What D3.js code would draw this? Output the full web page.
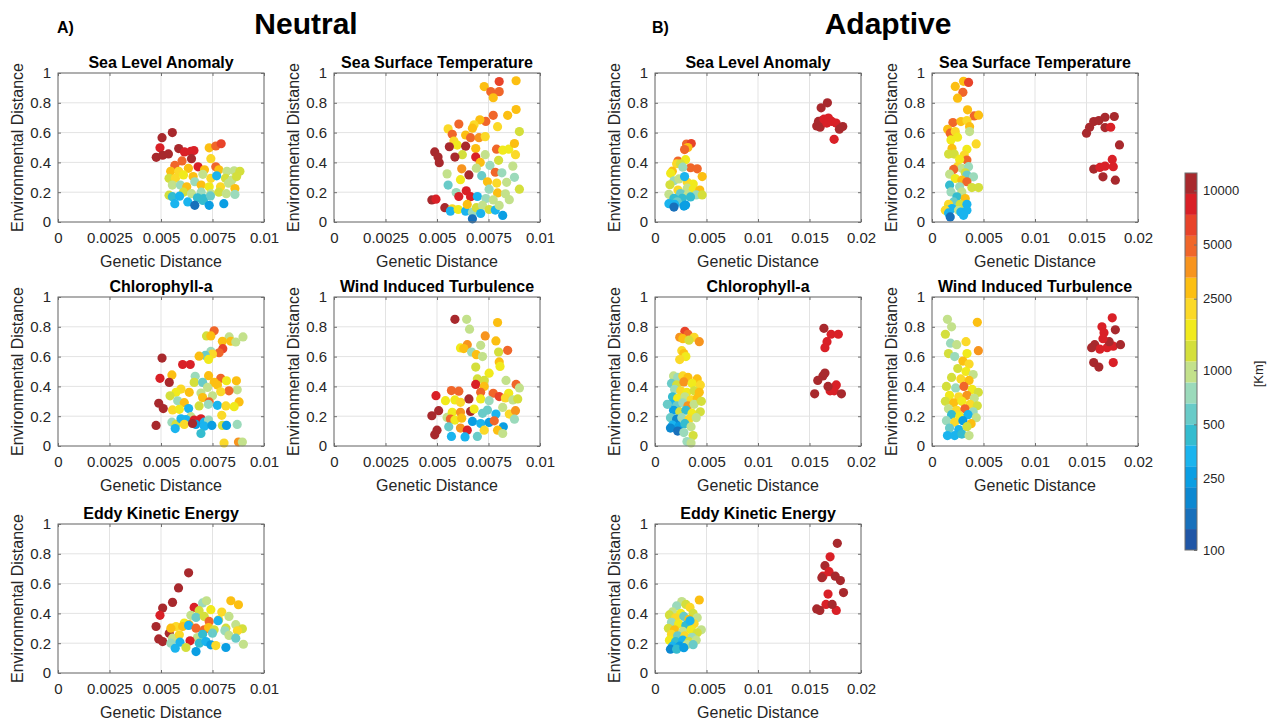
<!DOCTYPE html>
<html>
<head>
<meta charset="utf-8">
<script src="https://cdn.jsdelivr.net/npm/d3@7"></script>
<style>
  body { margin: 0; background: #fff; }
  text { font-family: Arial, "Liberation Sans", Helvetica, sans-serif; }
</style>
</head>
<body>
<svg id="chart" width="1271" height="726"></svg>
<script>
// each point: [genetic distance, environmental distance, geographic distance (km)]
var neutralSLA = [
  [0.00555,0.60,11000],[0.00505,0.566,11000],[0.00495,0.498,8400],[0.00477,0.434,11000],[0.00508,0.448,11000],
  [0.00536,0.457,11000],[0.00586,0.493,11000],[0.00614,0.47,8400],[0.00645,0.475,8400],[0.0066,0.48,8400],
  [0.00648,0.425,11000],[0.0068,0.37,8400],[0.00734,0.498,2900],[0.00766,0.51,4900],[0.00792,0.525,6400],
  [0.00742,0.425,2200],[0.00602,0.41,4900],[0.00567,0.38,4900],[0.00547,0.34,2900],[0.00586,0.34,2200],
  [0.00633,0.36,2900],[0.00711,0.35,2900],[0.00766,0.37,4900],[0.00781,0.35,2900],[0.0082,0.34,980],
  [0.00855,0.344,980],[0.00883,0.34,1300],[0.00539,0.293,1300],[0.0057,0.293,2200],[0.00609,0.316,1700],
  [0.00656,0.305,2900],[0.00703,0.32,980],[0.00742,0.293,2200],[0.00813,0.293,1300],[0.00844,0.282,980],
  [0.00867,0.305,1300],[0.00555,0.248,980],[0.00594,0.248,750],[0.00625,0.236,2900],[0.00664,0.27,750],
  [0.00695,0.248,2900],[0.00734,0.236,1700],[0.00789,0.236,2200],[0.00828,0.26,980],[0.00609,0.2,1300],
  [0.00648,0.19,980],[0.00695,0.2,750],[0.00742,0.19,980],[0.00781,0.2,1300],[0.00817,0.19,980],
  [0.00859,0.225,2900],[0.00859,0.185,750],[0.00539,0.18,1300],[0.00555,0.17,440],[0.0059,0.173,340],
  [0.00677,0.162,440],[0.00708,0.157,440],[0.0074,0.175,570],[0.0077,0.31,340],[0.00567,0.123,340],
  [0.0063,0.135,340],[0.00664,0.112,150],[0.00703,0.145,440],[0.00734,0.112,260],[0.00805,0.123,260]
];
var neutralSST = [
  [0.00884,0.948,2900],[0.00802,0.943,6400],[0.00729,0.909,2900],[0.00761,0.875,4900],[0.00802,0.875,4900],
  [0.00773,0.834,2900],[0.00884,0.755,2900],[0.00843,0.716,2900],[0.00773,0.716,4900],[0.00737,0.675,4900],
  [0.00708,0.686,2900],[0.0068,0.652,2200],[0.00672,0.63,2900],[0.00794,0.64,2200],[0.00606,0.657,4900],
  [0.00554,0.625,2200],[0.00574,0.589,4900],[0.00639,0.584,2900],[0.00663,0.566,4900],[0.00704,0.566,3700],
  [0.00734,0.573,2200],[0.009,0.607,1300],[0.00582,0.543,2200],[0.00598,0.516,1700],[0.0056,0.505,11000],
  [0.00639,0.509,11000],[0.00623,0.452,1300],[0.00688,0.493,2900],[0.00789,0.489,4900],[0.00819,0.482,1700],
  [0.00848,0.489,1700],[0.00876,0.527,2900],[0.00881,0.452,2200],[0.00489,0.47,11000],[0.00505,0.436,11000],
  [0.00511,0.398,11000],[0.00587,0.436,11000],[0.00688,0.436,8400],[0.00734,0.452,980],[0.0071,0.40,2900],
  [0.00799,0.414,1300],[0.00549,0.323,980],[0.0062,0.357,3700],[0.00655,0.316,11000],[0.00691,0.361,980],
  [0.00717,0.311,570],[0.00757,0.38,750],[0.00783,0.334,4900],[0.00815,0.33,750],[0.00868,0.375,980],
  [0.00614,0.284,1700],[0.00745,0.27,2900],[0.0079,0.261,2200],[0.00838,0.266,980],[0.00876,0.30,750],
  [0.009,0.22,1300],[0.00554,0.248,570],[0.00753,0.22,750],[0.00593,0.198,750],[0.00642,0.209,8400],
  [0.00794,0.195,2900],[0.00832,0.189,980],[0.00851,0.15,980],[0.00475,0.148,11000],[0.00495,0.153,8400],
  [0.00606,0.171,8400],[0.00663,0.17,8400],[0.00696,0.171,340],[0.00737,0.157,750],[0.00773,0.148,980],
  [0.00538,0.096,11000],[0.00574,0.089,2200],[0.00565,0.073,340],[0.00603,0.084,1700],[0.00639,0.073,340],
  [0.00647,0.118,2900],[0.00672,0.066,750],[0.00691,0.096,1300],[0.00721,0.111,980],[0.00753,0.084,1300],
  [0.00783,0.08,340],[0.00802,0.111,980],[0.00819,0.044,260],[0.00672,0.021,150],[0.00712,0.057,340]
];
var neutralChl = [
  [0.00758,0.773,4900],[0.00721,0.739,1300],[0.00742,0.739,2900],[0.00831,0.732,980],[0.00898,0.732,980],
  [0.00798,0.703,2900],[0.00839,0.703,2900],[0.00863,0.698,980],[0.008,0.653,6400],[0.00782,0.626,4900],
  [0.00742,0.635,750],[0.0075,0.617,2200],[0.00715,0.608,570],[0.00685,0.603,2900],[0.00731,0.581,1700],
  [0.00505,0.59,11000],[0.00605,0.547,8400],[0.00642,0.547,8400],[0.00495,0.454,8400],[0.00553,0.477,2900],
  [0.0054,0.427,11000],[0.00666,0.468,750],[0.00731,0.472,2900],[0.0079,0.454,4900],[0.00818,0.438,1700],
  [0.00866,0.438,2900],[0.00661,0.427,1300],[0.00702,0.427,570],[0.00758,0.427,2900],[0.00774,0.409,2900],
  [0.00726,0.393,980],[0.0087,0.377,980],[0.0083,0.37,4900],[0.0079,0.364,2200],[0.00597,0.382,2200],
  [0.00637,0.36,2900],[0.00573,0.36,1700],[0.00544,0.337,1300],[0.00694,0.355,980],[0.0075,0.337,980],
  [0.00702,0.325,2900],[0.00581,0.303,750],[0.00613,0.291,2900],[0.00734,0.296,4900],[0.00879,0.296,2900],
  [0.00489,0.287,11000],[0.00511,0.251,11000],[0.00556,0.242,2200],[0.00589,0.246,1700],[0.00634,0.251,340],
  [0.00685,0.269,1300],[0.0073,0.28,750],[0.00774,0.273,340],[0.00815,0.269,2200],[0.00855,0.264,1700],
  [0.00645,0.197,980],[0.00621,0.178,340],[0.00661,0.174,8400],[0.00694,0.183,8400],[0.0071,0.16,340],
  [0.00731,0.174,750],[0.00795,0.206,2200],[0.00553,0.16,750],[0.00573,0.145,1300],[0.00597,0.183,340],
  [0.00613,0.145,2200],[0.00476,0.138,11000],[0.00569,0.117,340],[0.00669,0.145,260],[0.00653,0.151,11000],
  [0.0071,0.133,340],[0.00747,0.138,260],[0.00798,0.138,1300],[0.00818,0.138,260],[0.0087,0.145,750],
  [0.00694,0.084,440],[0.00806,0.02,2200],[0.00876,0.027,3700],[0.00895,0.027,980]
];
var neutralWind = [
  [0.00587,0.85,11000],[0.00644,0.85,980],[0.00658,0.784,980],[0.00794,0.829,2900],[0.00734,0.739,3700],
  [0.00786,0.705,2900],[0.00712,0.676,980],[0.00647,0.68,3700],[0.00614,0.658,1700],[0.0063,0.654,2900],
  [0.00668,0.631,750],[0.00691,0.613,2900],[0.00721,0.60,980],[0.00799,0.631,1300],[0.00843,0.642,4900],
  [0.00802,0.564,2900],[0.00806,0.534,1700],[0.00688,0.53,1300],[0.00753,0.489,1700],[0.00696,0.45,1300],
  [0.00729,0.44,1300],[0.00835,0.44,980],[0.00688,0.413,8400],[0.00729,0.40,2900],[0.00884,0.413,4900],
  [0.009,0.39,980],[0.00495,0.338,8400],[0.0057,0.372,4900],[0.00606,0.368,4900],[0.00712,0.36,4900],
  [0.00773,0.354,4900],[0.00848,0.354,1700],[0.00541,0.304,1700],[0.00587,0.309,1700],[0.00614,0.293,2200],
  [0.00655,0.316,11000],[0.00712,0.316,1700],[0.00753,0.304,750],[0.00802,0.332,6400],[0.00832,0.322,2200],
  [0.00868,0.309,980],[0.00892,0.316,1300],[0.00508,0.237,11000],[0.00475,0.203,11000],[0.00549,0.192,980],
  [0.00574,0.226,1700],[0.00614,0.226,3700],[0.00663,0.232,11000],[0.0068,0.248,1700],[0.00721,0.219,570],
  [0.00745,0.241,570],[0.00786,0.214,340],[0.00819,0.259,980],[0.00851,0.214,2200],[0.00881,0.237,3700],
  [0.00565,0.181,4900],[0.00587,0.174,1700],[0.0062,0.187,2900],[0.00672,0.165,260],[0.00712,0.151,340],
  [0.00753,0.158,260],[0.00778,0.169,4900],[0.00822,0.129,260],[0.00876,0.18,750],[0.00557,0.129,570],
  [0.00614,0.12,3700],[0.00647,0.106,8400],[0.00729,0.106,2200],[0.00794,0.106,2900],[0.00819,0.084,980],
  [0.005,0.106,11000],[0.00489,0.075,11000],[0.0057,0.064,340],[0.00636,0.061,340],[0.00696,0.064,570]
];
var neutralEKE = [
  [0.00634,0.672,11000],[0.00585,0.571,11000],[0.00556,0.474,11000],[0.00508,0.436,11000],[0.00495,0.387,8400],
  [0.00476,0.312,11000],[0.00489,0.229,11000],[0.00508,0.211,11000],[0.0054,0.267,11000],[0.00661,0.44,8400],
  [0.00702,0.47,750],[0.00721,0.485,980],[0.00839,0.485,2900],[0.00876,0.458,2900],[0.00685,0.418,1300],
  [0.00742,0.425,1700],[0.00795,0.409,2200],[0.0083,0.38,980],[0.00645,0.387,980],[0.0067,0.373,570],
  [0.0071,0.38,1300],[0.0078,0.357,2200],[0.00734,0.346,4900],[0.00777,0.351,340],[0.00613,0.335,1700],
  [0.00637,0.324,2900],[0.00573,0.312,2200],[0.00548,0.301,2900],[0.00605,0.312,2900],[0.00634,0.319,340],
  [0.0067,0.301,4900],[0.0071,0.29,4900],[0.00731,0.305,2900],[0.00815,0.301,1300],[0.00863,0.324,980],
  [0.00895,0.297,1300],[0.00758,0.29,1300],[0.0081,0.283,750],[0.00871,0.283,2200],[0.00556,0.234,980],
  [0.00589,0.256,2200],[0.00677,0.238,980],[0.00702,0.26,440],[0.0075,0.267,570],[0.0083,0.252,980],
  [0.00863,0.234,570],[0.009,0.193,980],[0.00548,0.20,750],[0.00592,0.207,340],[0.00641,0.216,8400],
  [0.00686,0.20,440],[0.00718,0.211,340],[0.00742,0.189,260],[0.00766,0.184,2200],[0.00815,0.171,260],
  [0.00569,0.166,340],[0.00621,0.171,1300],[0.0067,0.144,260]
];
var adaptiveSLA = [
  [0.00306,0.523,4900],[0.00352,0.527,6400],[0.00319,0.50,2900],[0.00287,0.486,4900],[0.00223,0.409,4900],
  [0.00297,0.418,1700],[0.0021,0.391,2200],[0.00248,0.391,1300],[0.00345,0.364,4900],[0.0041,0.357,4900],
  [0.00168,0.341,2900],[0.00152,0.327,1700],[0.0027,0.368,750],[0.00458,0.305,2900],[0.00184,0.277,750],
  [0.00232,0.289,980],[0.00313,0.266,2200],[0.00371,0.255,1700],[0.00145,0.25,1300],[0.00223,0.214,2200],
  [0.00313,0.227,980],[0.00371,0.22,1700],[0.00435,0.214,2900],[0.00135,0.186,980],[0.00248,0.191,570],
  [0.00319,0.182,980],[0.004,0.182,750],[0.00458,0.182,1300],[0.00184,0.159,440],[0.00265,0.159,440],
  [0.00345,0.168,440],[0.00216,0.136,570],[0.00287,0.305,340],[0.00135,0.123,340],[0.0019,0.118,340],
  [0.00281,0.107,260],[0.00297,0.114,260],[0.00184,0.10,150],
  [0.01613,0.766,11000],[0.01674,0.80,11000],[0.0157,0.645,11000],[0.01587,0.675,11000],[0.01603,0.636,11000],
  [0.0162,0.68,11000],[0.0164,0.69,8400],[0.01684,0.698,8400],[0.01668,0.664,8400],[0.01716,0.675,8400],
  [0.01758,0.664,8400],[0.0179,0.623,11000],[0.01823,0.641,11000],[0.01739,0.555,8400]
];
var adaptiveSST = [
  [0.00226,0.91,2900],[0.00306,0.944,2900],[0.00355,0.937,6400],[0.003,0.87,4900],[0.00248,0.831,2900],
  [0.00345,0.753,2900],[0.0041,0.712,4900],[0.00452,0.717,2900],[0.00203,0.667,4900],[0.00281,0.674,2900],
  [0.00339,0.681,2200],[0.00365,0.64,2900],[0.00152,0.622,2900],[0.00177,0.596,4900],[0.00226,0.607,2200],
  [0.00248,0.569,1700],[0.00365,0.607,980],[0.00184,0.551,1700],[0.00429,0.524,2200],[0.00194,0.494,2900],
  [0.00339,0.488,1700],[0.00161,0.456,1300],[0.00216,0.456,1300],[0.00313,0.449,2200],[0.00339,0.416,4900],
  [0.00268,0.42,1700],[0.00248,0.371,2200],[0.0029,0.36,980],[0.00355,0.371,750],[0.0021,0.353,4900],
  [0.00171,0.321,980],[0.00323,0.33,1300],[0.00339,0.315,570],[0.00403,0.303,750],[0.00226,0.292,1700],
  [0.0029,0.281,2900],[0.00339,0.27,4900],[0.00171,0.247,440],[0.00268,0.236,750],[0.00387,0.231,1300],
  [0.00452,0.231,1300],[0.00184,0.202,750],[0.0029,0.202,980],[0.00242,0.169,440],[0.00323,0.157,2900],
  [0.0021,0.135,570],[0.00161,0.119,2200],[0.00274,0.119,1300],[0.00339,0.119,340],[0.00139,0.083,1300],
  [0.00194,0.09,340],[0.00258,0.079,980],[0.00129,0.079,2200],[0.00161,0.061,340],[0.0028,0.067,340],
  [0.00339,0.079,340],[0.00306,0.045,340],[0.00177,0.034,150],
  [0.0150,0.596,11000],[0.0153,0.636,11000],[0.0157,0.674,11000],[0.0162,0.681,11000],[0.0168,0.703,11000],
  [0.0168,0.634,11000],[0.01735,0.636,8400],[0.0177,0.708,11000],[0.0182,0.517,11000],[0.0157,0.355,11000],
  [0.0163,0.366,8400],[0.0168,0.375,8400],[0.0175,0.42,8400],[0.0176,0.371,8400],[0.0166,0.303,11000],
  [0.0178,0.281,11000]
];
var adaptiveChl = [
  [0.0029,0.77,6400],[0.0032,0.75,4900],[0.0024,0.73,3700],[0.0027,0.72,2900],[0.0038,0.73,2200],
  [0.0043,0.70,3700],[0.0033,0.71,1300],[0.0026,0.64,2200],[0.0028,0.62,2900],[0.0030,0.60,1700],
  [0.0024,0.58,2200],[0.0018,0.47,980],[0.0022,0.46,750],[0.0027,0.47,2200],[0.0032,0.46,2900],
  [0.0041,0.45,2900],[0.0016,0.42,570],[0.0021,0.41,1300],[0.0028,0.43,3700],[0.0036,0.42,1700],
  [0.0044,0.41,2200],[0.0019,0.38,750],[0.0025,0.37,2200],[0.0031,0.36,1700],[0.0038,0.37,1300],
  [0.0043,0.36,2900],[0.0017,0.33,440],[0.0022,0.32,1700],[0.0029,0.33,980],[0.0035,0.31,2200],
  [0.0041,0.32,2900],[0.0016,0.28,340],[0.0021,0.27,570],[0.0027,0.29,750],[0.0032,0.27,3700],
  [0.0038,0.28,980],[0.0018,0.24,260],[0.0024,0.23,1300],[0.0030,0.24,440],[0.0036,0.22,1700],
  [0.0044,0.23,1300],[0.0015,0.19,570],[0.0021,0.18,200],[0.0026,0.19,750],[0.0033,0.18,2200],
  [0.0040,0.19,980],[0.0017,0.14,340],[0.0023,0.13,260],[0.0029,0.15,440],[0.0035,0.13,980],
  [0.0015,0.12,200],[0.0022,0.10,150],[0.0028,0.09,750],[0.0037,0.07,1300],[0.0031,0.03,750],
  [0.0035,0.02,980],[0.0045,0.30,1300],[0.0012,0.28,570],
  [0.0164,0.79,11000],[0.0171,0.75,8400],[0.0178,0.75,8400],[0.0167,0.70,8400],[0.0165,0.66,8400],
  [0.0163,0.47,11000],[0.0158,0.44,11000],[0.0155,0.35,11000],[0.0170,0.37,8400],[0.0176,0.41,8400],
  [0.0174,0.37,8400],[0.0168,0.40,11000],[0.0181,0.35,11000],[0.0165,0.49,11000]
];
var adaptiveWind = [
  [0.0015,0.85,980],[0.0019,0.80,980],[0.0044,0.83,2900],[0.0013,0.75,1300],[0.0018,0.69,750],
  [0.0024,0.68,980],[0.0033,0.70,2200],[0.0034,0.62,1700],[0.0045,0.64,3700],[0.0016,0.62,1300],
  [0.0022,0.60,750],[0.0030,0.57,2900],[0.0036,0.55,2200],[0.0025,0.52,1300],[0.0033,0.50,1700],
  [0.0040,0.48,980],[0.0019,0.46,1300],[0.0028,0.45,2200],[0.0036,0.44,2900],[0.0014,0.40,1300],
  [0.0023,0.39,750],[0.0031,0.40,4900],[0.0039,0.38,1700],[0.0045,0.36,1300],[0.0017,0.34,1700],
  [0.0026,0.33,2200],[0.0034,0.34,3700],[0.0041,0.32,980],[0.0013,0.30,1300],[0.0021,0.29,2900],
  [0.0029,0.30,1700],[0.0037,0.28,2200],[0.0044,0.27,1300],[0.0016,0.25,980],[0.0024,0.24,2200],
  [0.0032,0.25,4900],[0.0040,0.23,750],[0.0019,0.21,440],[0.0027,0.20,1700],[0.0035,0.21,340],
  [0.0043,0.19,980],[0.0014,0.17,750],[0.0022,0.16,2200],[0.0030,0.17,260],[0.0038,0.15,2900],
  [0.0017,0.12,570],[0.0026,0.11,340],[0.0034,0.13,1300],[0.0015,0.07,340],[0.0022,0.07,340],
  [0.0029,0.08,440],[0.0036,0.07,980],
  [0.0175,0.86,8400],[0.0165,0.80,8400],[0.0167,0.76,8400],[0.0178,0.78,11000],[0.0158,0.68,11000],
  [0.0163,0.65,8400],[0.0170,0.66,8400],[0.0176,0.67,8400],[0.0183,0.68,11000],[0.0155,0.66,11000],
  [0.0157,0.56,11000],[0.0162,0.53,11000],[0.0176,0.56,8400],[0.0172,0.70,11000],[0.0166,0.72,8400]
];
var adaptiveEKE = [
  [0.0043,0.49,2900],[0.0026,0.48,980],[0.0030,0.46,1300],[0.0021,0.45,750],[0.0034,0.44,2200],
  [0.0017,0.41,980],[0.0025,0.40,1700],[0.0037,0.40,1300],[0.0014,0.39,1300],[0.0020,0.37,2200],
  [0.0028,0.38,570],[0.0033,0.36,2900],[0.0041,0.37,980],[0.0016,0.34,750],[0.0023,0.33,1700],
  [0.0030,0.32,440],[0.0038,0.33,2200],[0.0045,0.29,980],[0.0013,0.30,1300],[0.0019,0.29,2900],
  [0.0027,0.28,980],[0.0035,0.29,1700],[0.0041,0.27,1300],[0.0016,0.26,2200],[0.0022,0.25,570],
  [0.0029,0.25,2200],[0.0036,0.24,750],[0.0014,0.22,1700],[0.0020,0.21,440],[0.0027,0.22,340],
  [0.0033,0.21,1300],[0.0040,0.22,980],[0.0017,0.18,340],[0.0024,0.18,260],[0.0031,0.19,980],
  [0.0037,0.19,570],[0.0015,0.16,200],[0.0021,0.16,440],[0.0028,0.17,260],[0.0034,0.35,340],
  [0.0177,0.87,11000],[0.0170,0.78,8400],[0.0165,0.72,11000],[0.0163,0.65,8400],[0.0169,0.68,8400],
  [0.0175,0.65,11000],[0.0180,0.62,11000],[0.0183,0.54,11000],[0.0168,0.53,8400],[0.0166,0.46,8400],
  [0.0160,0.42,11000],[0.0176,0.42,8400],[0.0172,0.46,11000],[0.0157,0.43,11000],[0.0162,0.64,11000]
];

var panelTitles = ["Sea Level Anomaly", "Sea Surface Temperature", "Chlorophyll-a", "Wind Induced Turbulence", "Eddy Kinetic Energy"];
var neutralTicks = [0, 0.0025, 0.005, 0.0075, 0.01];
var adaptiveTicks = [0, 0.005, 0.01, 0.015, 0.02];
var envTicks = [0, 0.2, 0.4, 0.6, 0.8, 1];
var kmTicks = [100, 250, 500, 1000, 2500, 5000, 10000];
// colormap bands, low km -> high km
var kmColors = ["#2056a6", "#1870bb", "#0c88d1", "#0a9ee3", "#1ab4ee", "#34bccf", "#69cbc8", "#9bdabb", "#c3e18b",
  "#d4df3c", "#f1ea1c", "#fbd928", "#fcbf12", "#f7941e", "#f0662a", "#e8432a", "#d92027", "#a8292d"];
var kmMin = 100, kmMax = 12500;

var svg = d3.select("#chart");
var axisColor = "#6f6f6f";
var textColor = "#262626";

var colorScale = d3.scaleQuantize()
  .domain([Math.log10(kmMin), Math.log10(kmMax)])
  .range(kmColors);

var styleTicks = function (sel) {
  sel.select(".domain").remove();
  sel.selectAll(".tick line").attr("stroke", axisColor);
  sel.selectAll(".tick text")
    .attr("fill", textColor)
    .attr("font-size", 15)
    .attr("font-family", "Arial, 'Liberation Sans', sans-serif");
};

var drawPanel = function (pts, title, x0, y0, xMax, xTicks) {
  var w = 206, h = 149;
  var xScale = d3.scaleLinear().domain([0, xMax]).range([x0, x0 + w]);
  var yScale = d3.scaleLinear().domain([0, 1]).range([y0 + h, y0]);
  var g = svg.append("g");

  // grid
  g.selectAll(".vgrid").data(xTicks).enter().append("line")
    .attr("x1", function (d) { return xScale(d); })
    .attr("x2", function (d) { return xScale(d); })
    .attr("y1", y0).attr("y2", y0 + h)
    .attr("stroke", "#e3e3e3");
  g.selectAll(".hgrid").data(envTicks).enter().append("line")
    .attr("x1", x0).attr("x2", x0 + w)
    .attr("y1", function (d) { return yScale(d); })
    .attr("y2", function (d) { return yScale(d); })
    .attr("stroke", "#e3e3e3");

  // points
  g.selectAll("circle").data(pts).enter().append("circle")
    .attr("cx", function (d) { return xScale(d[0]); })
    .attr("cy", function (d) { return yScale(d[1]); })
    .attr("r", 4.6)
    .attr("fill", function (d) { return colorScale(Math.log10(d[2])); });

  // axes (ticks inside, box on)
  g.append("g").attr("transform", "translate(0," + (y0 + h) + ")")
    .call(d3.axisBottom(xScale).tickValues(xTicks).tickSize(-3).tickPadding(10)
      .tickFormat(function (d) { return String(d); }))
    .call(styleTicks);
  g.append("g").attr("transform", "translate(0," + y0 + ")")
    .call(d3.axisTop(xScale).tickValues(xTicks).tickSize(-3).tickFormat(""))
    .call(styleTicks);
  g.append("g").attr("transform", "translate(" + x0 + ",0)")
    .call(d3.axisLeft(yScale).tickValues(envTicks).tickSize(-3).tickPadding(7)
      .tickFormat(function (d) { return String(d); }))
    .call(styleTicks);
  g.append("g").attr("transform", "translate(" + (x0 + w) + ",0)")
    .call(d3.axisRight(yScale).tickValues(envTicks).tickSize(-3).tickFormat(""))
    .call(styleTicks);
  g.append("rect")
    .attr("x", x0).attr("y", y0).attr("width", w).attr("height", h)
    .attr("fill", "none").attr("stroke", axisColor);

  // labels
  g.append("text")
    .attr("x", x0 + w / 2).attr("y", y0 - 5)
    .attr("text-anchor", "middle")
    .attr("font-size", 16).attr("font-weight", "bold").attr("fill", "#000")
    .text(title);
  g.append("text")
    .attr("x", x0 + w / 2).attr("y", y0 + h + 45)
    .attr("text-anchor", "middle")
    .attr("font-size", 16).attr("fill", textColor)
    .text("Genetic Distance");
  g.append("text")
    .attr("transform", "translate(" + (x0 - 41) + "," + (y0 + h / 2) + ") rotate(-90)")
    .attr("dy", "0.35em")
    .attr("text-anchor", "middle")
    .attr("font-size", 16).attr("fill", textColor)
    .text("Environmental Distance");
};

var rows = [73, 297, 524];
var neutralCols = [58, 334];
var adaptiveCols = [655, 932];

drawPanel(neutralSLA, panelTitles[0], neutralCols[0], rows[0], 0.01, neutralTicks);
drawPanel(neutralSST, panelTitles[1], neutralCols[1], rows[0], 0.01, neutralTicks);
drawPanel(neutralChl, panelTitles[2], neutralCols[0], rows[1], 0.01, neutralTicks);
drawPanel(neutralWind, panelTitles[3], neutralCols[1], rows[1], 0.01, neutralTicks);
drawPanel(neutralEKE, panelTitles[4], neutralCols[0], rows[2], 0.01, neutralTicks);

drawPanel(adaptiveSLA, panelTitles[0], adaptiveCols[0], rows[0], 0.02, adaptiveTicks);
drawPanel(adaptiveSST, panelTitles[1], adaptiveCols[1], rows[0], 0.02, adaptiveTicks);
drawPanel(adaptiveChl, panelTitles[2], adaptiveCols[0], rows[1], 0.02, adaptiveTicks);
drawPanel(adaptiveWind, panelTitles[3], adaptiveCols[1], rows[1], 0.02, adaptiveTicks);
drawPanel(adaptiveEKE, panelTitles[4], adaptiveCols[0], rows[2], 0.02, adaptiveTicks);

// headers
svg.append("text").attr("x", 57).attr("y", 33).attr("font-size", 16).attr("font-weight", "bold").text("A)");
svg.append("text").attr("x", 306).attr("y", 34).attr("text-anchor", "middle")
  .attr("font-size", 30).attr("font-weight", "bold").text("Neutral");
svg.append("text").attr("x", 652).attr("y", 33).attr("font-size", 16).attr("font-weight", "bold").text("B)");
svg.append("text").attr("x", 888).attr("y", 34).attr("text-anchor", "middle")
  .attr("font-size", 30).attr("font-weight", "bold").text("Adaptive");

// colorbar
var cbX = 1185, cbW = 12;
var cbScale = d3.scaleLog().domain([kmMin, kmMax]).range([550, 173]);
var logStep = (Math.log10(kmMax) - Math.log10(kmMin)) / kmColors.length;
var cb = svg.append("g");
cb.selectAll("rect").data(kmColors).enter().append("rect")
  .attr("x", cbX).attr("width", cbW)
  .attr("y", function (d, i) { return cbScale(Math.pow(10, 2 + (i + 1) * logStep)); })
  .attr("height", function (d, i) {
    return cbScale(Math.pow(10, 2 + i * logStep)) - cbScale(Math.pow(10, 2 + (i + 1) * logStep));
  })
  .attr("fill", function (d) { return d; });
cb.append("rect").attr("x", cbX).attr("y", 173).attr("width", cbW).attr("height", 377)
  .attr("fill", "none").attr("stroke", axisColor);
cb.append("g").attr("transform", "translate(" + (cbX + cbW) + ",0)")
  .call(d3.axisRight(cbScale).tickValues(kmTicks).tickSize(-3).tickPadding(6)
    .tickFormat(function (d) { return String(d); }))
  .call(styleTicks)
  .selectAll(".tick text").attr("font-size", 13);
svg.append("text")
  .attr("transform", "translate(1258,374) rotate(-90)")
  .attr("dy", "0.35em").attr("text-anchor", "middle")
  .attr("font-size", 13).attr("fill", textColor)
  .text("[Km]");
</script>
</body>
</html>
